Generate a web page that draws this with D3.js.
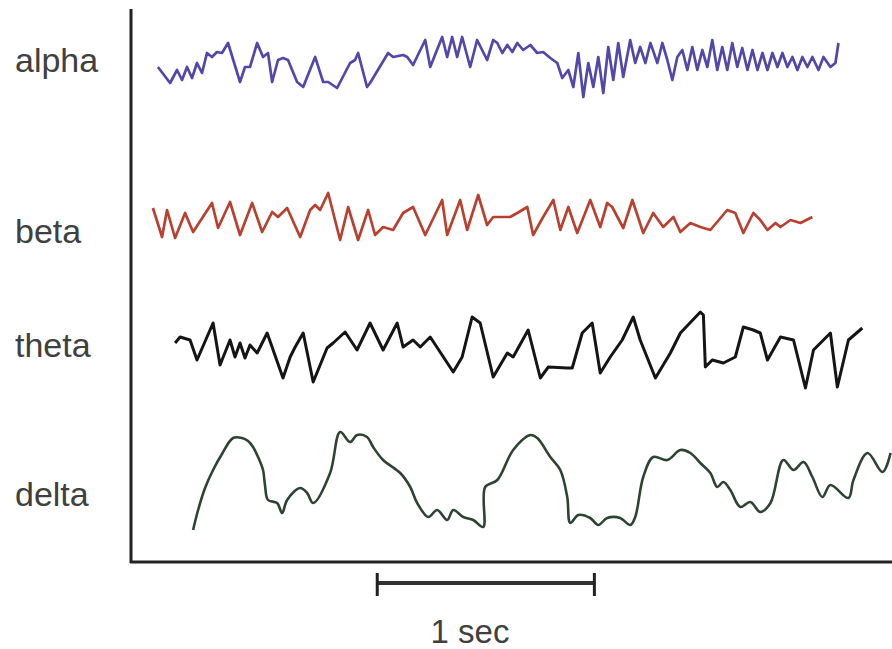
<!DOCTYPE html>
<html>
<head>
<meta charset="utf-8">
<script src="https://cdn.jsdelivr.net/npm/d3@7"></script>
<style>
  body { margin: 0; background: #fff; }
  .label { font-family: "Liberation Sans", Arial, sans-serif; font-size: 34px; fill: #404040; }
</style>
</head>
<body>
<svg id="chart"></svg>
<script>
// traced EEG bands, time in ms, amplitude in arbitrary units (up = positive)
var bands = ['alpha', 'beta', 'theta', 'delta'];

var alphaTime = [124,180,212,235,258,281,304,327,350,373,396,419,447,502,525,548,581,608,631,650,677,700,723,765,793,848,885,908,949,1009,1032,1046,1087,1101,1184,1207,1253,1272,1299,1355,1378,1433,1456,1479,1502,1525,1562,1594,1640,1668,1687,1710,1733,1756,1779,1806,1839,1871,1898,1931,1963,1986,2014,2037,2060,2083,2106,2129,2152,2175,2198,2221,2244,2267,2299,2322,2345,2369,2392,2424,2447,2470,2493,2516,2539,2562,2585,2608,2631,2654,2677,2700,2723,2746,2769,2792,2815,2839,2862,2885,2908,2931,2954,2977,3000,3023,3046,3069,3092,3115,3138,3166,3189,3221,3244,3258];
var alphaValue = [-5,-21,-8,-18,-5,-16,-1,-11,9,5,10,9,19,-20,-5,-5,19,5,9,-20,2,4,2,-20,-25,5,-20,-20,-26,-1,2,9,-25,-21,9,5,7,5,-3,22,-5,25,5,25,5,25,-5,22,2,22,19,9,17,10,19,12,17,9,10,4,-1,-16,-8,-25,9,-35,-1,-25,5,-31,15,-18,19,-15,22,-1,15,-1,19,-1,19,2,-18,5,12,-8,15,-8,12,-5,22,-8,15,-8,19,-5,14,-8,12,-8,9,-8,9,-5,9,-5,5,-8,5,-5,5,-8,5,-5,-1,19];

var betaTime = [101,143,166,203,249,286,373,401,456,502,558,604,650,677,719,779,825,848,871,908,963,1000,1046,1092,1124,1161,1207,1253,1299,1355,1433,1456,1516,1548,1599,1640,1668,1700,1746,1779,1825,1852,1898,1945,1977,2014,2055,2115,2161,2193,2216,2267,2309,2359,2405,2451,2498,2530,2576,2622,2668,2746,2783,2820,2866,2898,2931,2968,2991,3037,3083,3138];
var betaValue = [10,-19,8,-20,5,-14,15,-10,16,-17,15,-14,6,1,10,-19,8,13,8,25,-22,11,-22,8,-17,-9,-12,5,11,-17,18,-17,18,-12,23,-7,1,1,1,5,11,-17,1,18,-12,11,-15,18,-9,15,11,-10,18,-15,5,-9,1,-14,-5,-9,-12,8,5,-15,5,-2,-12,-5,-9,-2,-5,1];

var thetaTime = [203,226,272,304,378,410,456,479,502,525,548,581,627,700,733,756,793,839,903,931,986,1041,1101,1161,1226,1253,1299,1332,1378,1484,1525,1571,1608,1668,1733,1760,1829,1885,1922,2009,2032,2078,2124,2161,2207,2262,2313,2345,2415,2484,2530,2622,2636,2645,2677,2728,2783,2820,2866,2898,2931,2991,3051,3106,3143,3221,3253,3304,3368];
var thetaValue = [5,11,8,-12,25,-17,8,-9,5,-10,3,-5,15,-30,-9,1,15,-34,0,5,16,-2,25,-2,25,1,8,1,11,-24,-9,31,25,-29,-5,-9,18,-30,-19,-20,-20,15,25,-25,-9,8,31,8,-30,-5,15,36,33,-19,-12,-15,-9,21,18,15,-12,11,8,-40,-2,15,-39,8,20];

var deltaTime = [286,309,341,378,419,470,511,539,562,585,608,617,631,673,696,719,779,811,839,917,963,1009,1041,1087,1115,1161,1240,1286,1318,1369,1410,1456,1484,1530,1576,1622,1631,1687,1760,1839,1871,1931,1977,2009,2023,2060,2115,2152,2193,2253,2299,2322,2359,2405,2470,2530,2576,2622,2668,2700,2728,2760,2806,2852,2898,2945,3004,3051,3097,3138,3184,3221,3304,3327,3392,3461,3498];
var deltaValue = [-50,-30,-8,10,26,42,42,39,33,23,10,-5,-20,-23,-33,-20,-8,-13,-23,7,48,38,45,43,33,20,7,-7,-23,-37,-30,-40,-30,-37,-40,-47,-7,0,30,45,42,23,10,-17,-43,-35,-38,-45,-38,-38,-45,-37,3,23,20,30,27,17,7,-7,-2,-10,-27,-22,-32,-23,20,10,18,3,-17,-5,-18,0,27,8,27];

var scaleBarStart = 1134;
var scaleBarLength = 1000;
var scaleBarLabel = '1 sec';

var width = 892,
  height = 649;

var series = [
  { time: alphaTime, value: alphaValue, center: 62, color: '#5347ac', stroke: 2.7, curve: d3.curveLinear, labelY: 72 },
  { time: betaTime, value: betaValue, center: 218, color: '#b9402f', stroke: 2.7, curve: d3.curveLinear, labelY: 243 },
  { time: thetaTime, value: thetaValue, center: 348, color: '#151515', stroke: 3, curve: d3.curveLinear, labelY: 357 },
  { time: deltaTime, value: deltaValue, center: 480, color: '#2e4433', stroke: 2.6, curve: d3.curveCatmullRom, labelY: 506 }
];

var svg = d3.select('#chart')
  .attr('width', width)
  .attr('height', height);

var x = d3.scaleLinear()
  .domain([0, 3500])
  .range([131, 891]);

// axes frame
svg.append('line')
  .attr('x1', 131).attr('x2', 131)
  .attr('y1', 9).attr('y2', 563)
  .attr('stroke', '#222')
  .attr('stroke-width', 3);

svg.append('line')
  .attr('x1', 130).attr('x2', width)
  .attr('y1', 562).attr('y2', 562)
  .attr('stroke', '#222')
  .attr('stroke-width', 3);

series.forEach(function(s, i) {
  var y = d3.scaleLinear()
    .domain([-50, 50])
    .range([s.center + 50, s.center - 50]);

  var line = d3.line()
    .x(function(d) { return x(s.time[d]); })
    .y(function(d) { return y(s.value[d]); })
    .curve(s.curve);

  svg.append('path')
    .datum(d3.range(s.time.length))
    .attr('class', 'wave ' + bands[i])
    .attr('fill', 'none')
    .attr('stroke', s.color)
    .attr('stroke-width', s.stroke)
    .attr('stroke-linejoin', 'round')
    .attr('d', line);

  svg.append('text')
    .attr('class', 'label')
    .attr('x', 15)
    .attr('y', s.labelY)
    .text(bands[i]);
});

// scale bar
var bar = svg.append('g').attr('class', 'scale-bar');
var x0 = x(scaleBarStart),
  x1 = x(scaleBarStart + scaleBarLength);

bar.append('line')
  .attr('x1', x0).attr('x2', x1)
  .attr('y1', 583).attr('y2', 583)
  .attr('stroke', '#333')
  .attr('stroke-width', 4);

bar.selectAll('.tick')
  .data([x0, x1])
  .enter().append('line')
  .attr('class', 'tick')
  .attr('x1', function(d) { return d; })
  .attr('x2', function(d) { return d; })
  .attr('y1', 573).attr('y2', 596)
  .attr('stroke', '#222')
  .attr('stroke-width', 3);

bar.append('text')
  .attr('class', 'label')
  .attr('x', 470)
  .attr('y', 643)
  .attr('text-anchor', 'middle')
  .style('font-size', '33px')
  .text(scaleBarLabel);
</script>
</body>
</html>
